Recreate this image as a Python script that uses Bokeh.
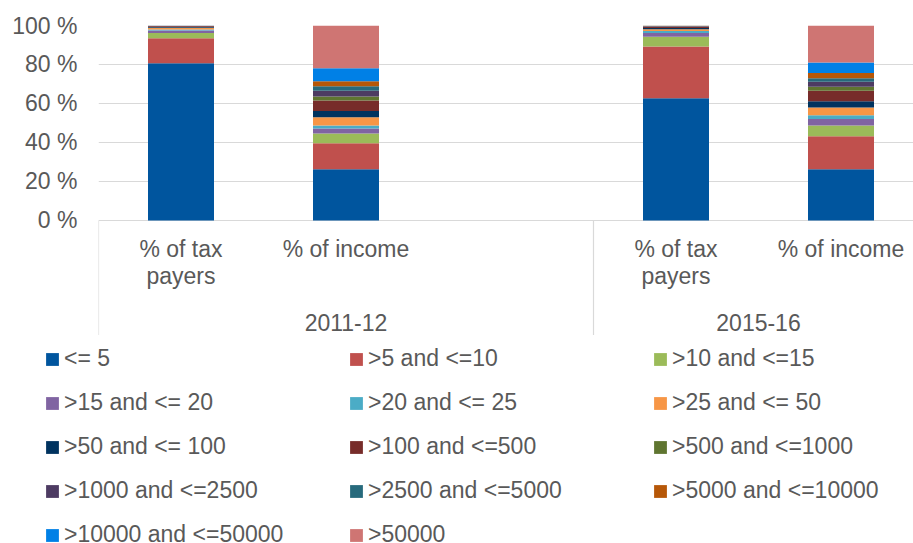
from bokeh.plotting import figure
from bokeh.layouts import column
from bokeh.models import FixedTicker, ColumnDataSource, Legend, LegendItem, Range1d
from bokeh.core.properties import value
from bokeh.embed import file_html
from bokeh.resources import INLINE

# ---------------- data ----------------
groups = ["2011-12", "2015-16"]
group_slots = [["% of tax\npayers", "% of income", ""],
               ["% of tax\npayers", "% of income"]]
bands = ["<= 5", ">5 and <=10", ">10 and <=15", ">15 and <= 20", ">20 and <= 25",
         ">25 and <= 50", ">50 and <= 100", ">100 and <=500", ">500 and <=1000",
         ">1000 and <=2500", ">2500 and <=5000", ">5000 and <=10000",
         ">10000 and <=50000", ">50000"]
taxpayers_2011 = [80.7, 12.8, 2.7, 1.2, 0.6, 0.9, 0.4, 0.45, 0.05, 0.1, 0.05, 0.02, 0.02, 0.01]
income_2011 = [26.3, 13.3, 5.0, 2.6, 1.5, 4.3, 3.1, 5.4, 2.1, 2.9, 2.4, 2.5, 6.7, 21.9]
taxpayers_2015 = [62.7, 26.5, 5.0, 2.0, 1.0, 0.9, 0.6, 0.7, 0.1, 0.3, 0.1, 0.05, 0.05, 0.0]
income_2015 = [26.3, 16.9, 5.5, 3.3, 2.0, 3.9, 3.3, 5.3, 2.1, 2.5, 1.9, 2.7, 5.3, 19.0]
y_ticks = [0, 20, 40, 60, 80, 100]

colors = ["#00559E", "#C0504D", "#9BBB59", "#8064A2", "#4BACC6", "#F79646",
          "#00335F", "#772C2A", "#5F7530", "#4D3B62", "#276A7C", "#B65708",
          "#0080E6", "#CF7573"]

FONT = "Liberation Sans"
TXT = "#595959"
GRID = "#D9D9D9"

# ---------------- slot positions ----------------
slot_x, slot_text, group_bounds, group_centers = [], [], [0], []
idx = 0
for g, slots in zip(groups, group_slots):
    start = idx
    for s in slots:
        slot_x.append(idx + 0.5)
        slot_text.append(s)
        idx += 1
    group_bounds.append(idx)
    group_centers.append((start + idx) / 2)

bar_values = [taxpayers_2011, income_2011, taxpayers_2015, income_2015]
bar_x = [x for x, t in zip(slot_x, slot_text) if t]

keys = [f"s{i}" for i in range(len(bands))]
data = {"x": bar_x}
for i, k in enumerate(keys):
    data[k] = [b[i] for b in bar_values]
source = ColumnDataSource(data)

PX_PER_SLOT = 165
W = 913
LEFT, TOP = 98, 25
y_lo = -59
frame_h = int(round((100 - y_lo) * 1.95))
H1 = TOP + frame_h          # chart part
H2 = 543 - H1               # legend part

p = figure(width=W, height=H1, output_backend="svg", toolbar_location=None,
           x_range=(0, (W - LEFT) / PX_PER_SLOT), y_range=(y_lo, 100),
           x_axis_location=None, min_border_left=LEFT, min_border_right=0,
           min_border_top=TOP, min_border_bottom=0)
p.outline_line_color = None
p.frame_align = False

p.vbar_stack(keys, x="x", width=0.4, source=source, color=colors, line_color=None)

# y axis
ax = p.yaxis[0]
ax.ticker = FixedTicker(ticks=y_ticks)
ax.major_label_overrides = {t: f"{t} %" for t in y_ticks}
ax.axis_line_color = None
ax.major_tick_line_color = None
ax.minor_tick_line_color = None
ax.major_tick_out = 0
ax.major_tick_in = 0
ax.major_label_standoff = 21
ax.major_label_text_font = FONT
ax.major_label_text_font_size = "23px"
ax.major_label_text_color = TXT
p.ygrid.grid_line_color = GRID
p.ygrid.grid_line_width = 1
p.xgrid.visible = False

# group separators
p.segment(x0=group_bounds, y0=[0] * len(group_bounds), x1=group_bounds,
          y1=[y_lo] * len(group_bounds), line_color=GRID, line_width=1.2)

# category labels
for line_no in range(2):
    xs, ts = [], []
    for x, t in zip(slot_x, slot_text):
        parts = t.split("\n")
        if line_no < len(parts) and parts[line_no]:
            xs.append(x)
            ts.append(parts[line_no])
    p.text(x=xs, y=[0] * len(xs), text=ts, y_offset=29 + 27 * line_no,
           text_align="center", text_baseline="middle",
           text_font=value(FONT), text_font_size="23px", text_color=TXT)

p.text(x=group_centers, y=[0] * len(group_centers), text=groups, y_offset=102,
       text_align="center", text_baseline="middle",
       text_font=value(FONT), text_font_size="23px", text_color=TXT)

# ---------------- legend panel ----------------
q = figure(width=W, height=H2, output_backend="svg", toolbar_location=None,
           x_range=Range1d(-20, -19), y_range=Range1d(-20, -19),
           x_axis_location=None, y_axis_location=None,
           min_border_left=0, min_border_right=0, min_border_top=0, min_border_bottom=0)
q.outline_line_color = None
q.grid.visible = False
q.frame_align = False
legend_renderers = q.vbar_stack(keys, x="x", width=0.4, source=source,
                                color=colors, line_color=None)

lg = Legend(items=[LegendItem(label=b, renderers=[r])
                   for b, r in zip(bands, legend_renderers)])
lg.orientation = "horizontal"
lg.ncols = 3
lg.glyph_width = 16
lg.glyph_height = 16
lg.label_standoff = 4
lg.label_width = 267
lg.label_height = 23
lg.spacing = 17
lg.padding = 0
lg.margin = 0
lg.border_line_color = None
lg.background_fill_alpha = 0
lg.label_text_font = FONT
lg.label_text_font_size = "23px"
lg.label_text_color = TXT
lg.location = (44, -5)
q.add_layout(lg, "center")

open("out.html", "w").write(file_html(column(p, q, spacing=0), INLINE))
